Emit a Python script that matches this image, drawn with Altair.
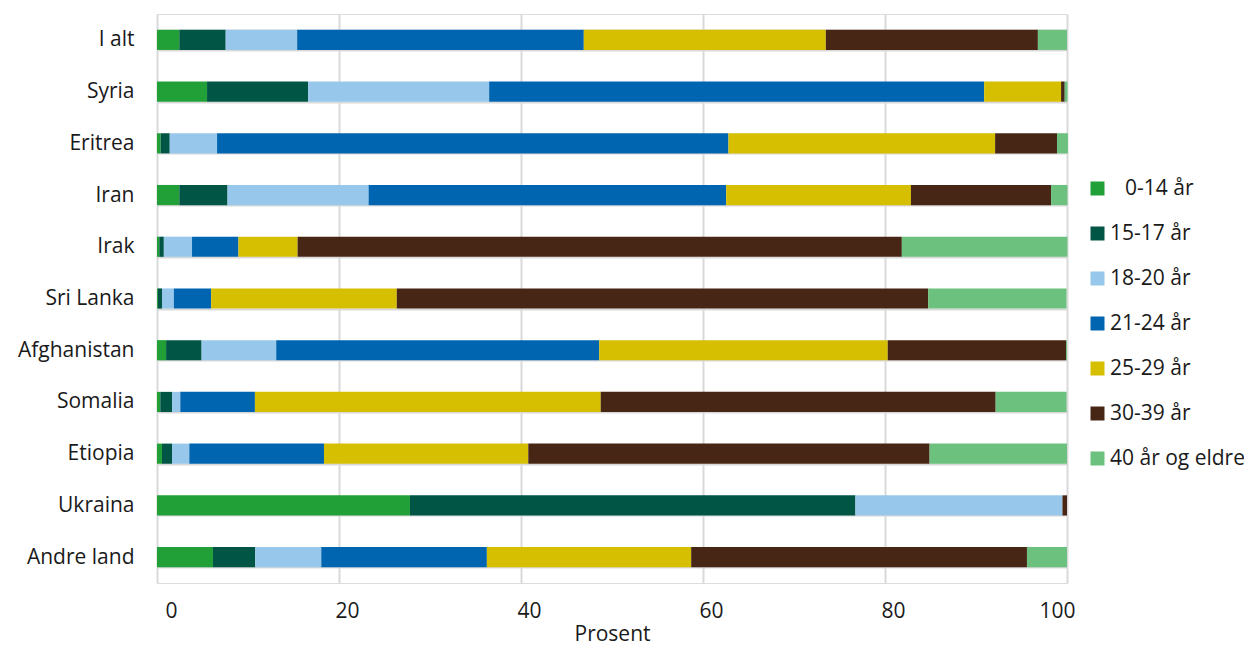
import altair as alt
import pandas as pd

countries = ["I alt", "Syria", "Eritrea", "Iran", "Irak", "Sri Lanka", "Afghanistan",
             "Somalia", "Etiopia", "Ukraina", "Andre land"]
groups = ["\u28000-14 år", "15-17 år", "18-20 år", "21-24 år", "25-29 år", "30-39 år", "40 år og eldre"]
colors = ["#21a038", "#005545", "#97c8eb", "#0065b0", "#d6be00", "#472615", "#6bc17d"]

age_0_14 = [2.45, 5.5, 0.4, 2.45, 0.25, 0.1, 1.0, 0.36, 0.55, 27.8, 6.15]
age_15_17 = [5.1, 11.1, 1.0, 5.3, 0.5, 0.45, 3.9, 1.3, 1.1, 48.95, 4.65]
age_18_20 = [7.85, 19.9, 5.2, 15.5, 3.1, 1.3, 8.2, 0.9, 1.9, 22.75, 7.25]
age_21_24 = [31.5, 54.4, 56.2, 39.3, 5.1, 4.1, 35.5, 8.2, 14.8, 0.0, 18.2]
age_25_29 = [26.6, 8.45, 29.3, 20.3, 6.5, 20.4, 31.7, 38.0, 22.45, 0.0, 22.45]
age_30_39 = [23.3, 0.4, 6.8, 15.4, 66.4, 58.4, 19.6, 43.4, 44.1, 0.5, 36.9]
age_40 = [3.2, 0.3, 1.2, 1.8, 18.2, 15.2, 0.1, 7.8, 15.1, 0.0, 4.4]

series = [age_0_14, age_15_17, age_18_20, age_21_24, age_25_29, age_30_39, age_40]
rows = []
for gi, (g, vals) in enumerate(zip(groups, series)):
    for c, v in zip(countries, vals):
        rows.append({"Land": c, "Gruppe": g, "Prosent": v, "idx": gi})
df = pd.DataFrame(rows)

FONT = "Open Sans"
TXT = "#1a1a1a"

chart = alt.Chart(df).mark_bar().encode(
    y=alt.Y("Land:N", sort=countries,
            scale=alt.Scale(paddingInner=0.61, paddingOuter=0.305),
            axis=alt.Axis(title=None, ticks=False, domain=False, grid=True, tickBand="extent",
                          gridColor="#d9d9d9", gridWidth=2, labelFontSize=21,
                          labelColor=TXT, labelFont=FONT, labelPadding=23)),
    x=alt.X("Prosent:Q", stack="zero", scale=alt.Scale(domain=[0, 100], nice=False),
            axis=alt.Axis(title="Prosent", values=[0, 20, 40, 60, 80, 100], ticks=False,
                          domain=False, grid=True, gridColor="#d9d9d9", gridWidth=2,
                          labelFontSize=21, labelColor=TXT, labelFont=FONT,
                          labelPadding=17, labelOffset=8, titleFontSize=21,
                          titleFontWeight="normal", titleColor=TXT, titleFont=FONT,
                          titlePadding=2)),
    color=alt.Color("Gruppe:N", sort=groups,
                    scale=alt.Scale(domain=groups, range=colors),
                    legend=alt.Legend(title=None, orient="none", legendX=930, legendY=164,
                                      symbolType="square", symbolSize=196, symbolStrokeWidth=0,
                                      labelFontSize=21, labelFont=FONT, labelColor=TXT,
                                      labelOffset=2, rowPadding=23, labelLimit=300)),
    order=alt.Order("idx:Q", sort="ascending"),
).properties(
    width=910, height=569,
    autosize=alt.AutoSizeParams(type="none"),
    padding={"left": 149, "top": 6, "right": 177, "bottom": 62},
).configure_view(strokeWidth=0).configure(background="white")

chart.save("out.html", embed_options={"renderer": "svg", "actions": False})
